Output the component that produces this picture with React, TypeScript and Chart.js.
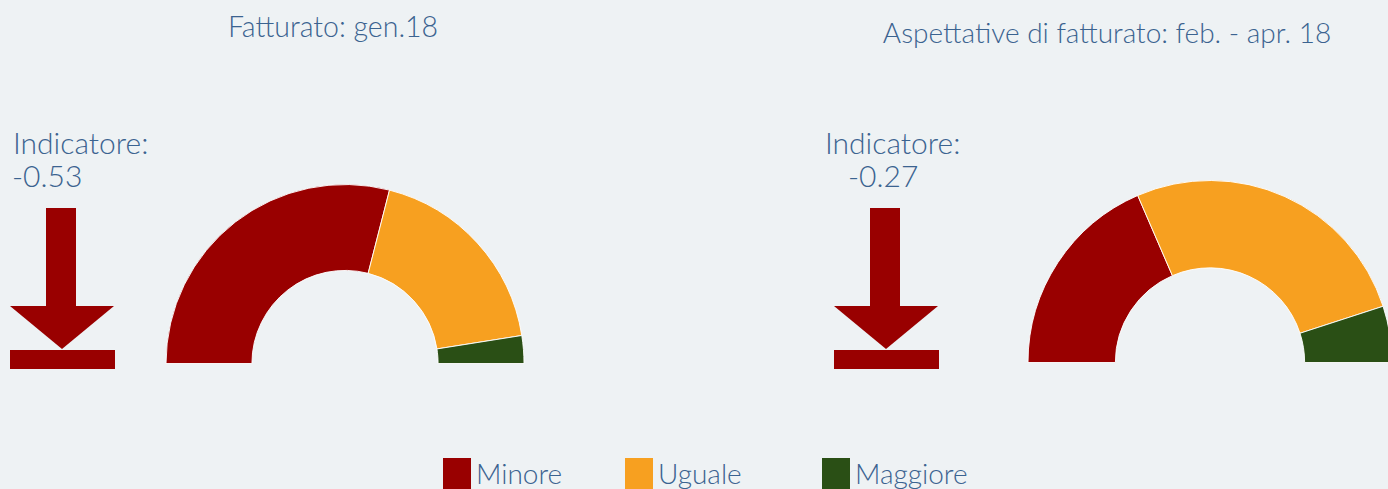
import React, { useEffect, useRef } from "react";
import { Chart, registerables } from "chart.js";

Chart.register(...registerables);

const categories = ["Minore", "Uguale", "Maggiore"];
const fatturatoGen18 = [58, 37, 5];
const aspettativeFebApr18 = [37, 53, 10];
const titles = ["Fatturato: gen.18", "Aspettative di fatturato: feb. - apr. 18"];
const indicatorLabels = ["-0.53", "-0.27"];
const colors = ["#990000", "#f7a020", "#2a4f15"];

const TEXT = "#3b6390";
const FONT = "Lato, 'Open Sans', sans-serif";

function Gauge({ values, left, top, size }: { values: number[]; left: number; top: number; size: number }) {
  const ref = useRef<HTMLCanvasElement | null>(null);
  useEffect(() => {
    if (!ref.current) return;
    const chart = new Chart(ref.current, {
      type: "doughnut",
      data: {
        labels: categories,
        datasets: [
          {
            data: values,
            backgroundColor: colors,
            borderColor: "rgba(255,255,255,0.9)",
            borderWidth: 1,
          },
        ],
      },
      options: {
        responsive: false,
        animation: false,
        rotation: -90,
        circumference: 180,
        cutout: "52%",
        layout: { padding: 0 },
        plugins: { legend: { display: false }, tooltip: { enabled: false } },
      },
    });
    return () => chart.destroy();
  }, []);
  return (
    <canvas
      ref={ref}
      width={size}
      height={size / 2}
      style={{ position: "absolute", left, top, width: size, height: size / 2 }}
    />
  );
}

function Arrow({ x }: { x: number }) {
  return (
    <svg style={{ position: "absolute", left: x, top: 208, overflow: "visible" }} width={106} height={162}>
      <rect x={36} y={0} width={30} height={99} fill="#990000" />
      <polygon points="0,98 104,98 52,141" fill="#990000" />
      <rect x={0} y={142} width={105} height={19} fill="#990000" />
    </svg>
  );
}

export default function App() {
  const textBase: React.CSSProperties = {
    position: "absolute",
    color: TEXT,
    fontFamily: FONT,
    fontWeight: 300,
    whiteSpace: "nowrap",
    lineHeight: 1,
  };
  return (
    <div
      style={{
        position: "absolute",
        left: 0,
        top: 0,
        width: 1388,
        height: 489,
        overflow: "hidden",
        background: "#eef2f4",
      }}
    >
      <div style={{ ...textBase, fontSize: 28.5, left: 333, top: 12, transform: "translateX(-50%)" }}>{titles[0]}</div>
      <div style={{ ...textBase, fontSize: 28, left: 1107, top: 18, transform: "translateX(-50%)" }}>{titles[1]}</div>

      <div style={{ ...textBase, fontSize: 30, left: 13, top: 127 }}>Indicatore:</div>
      <div style={{ ...textBase, fontSize: 30, left: 12, top: 160 }}>{indicatorLabels[0]}</div>
      <div style={{ ...textBase, fontSize: 30, left: 825, top: 127 }}>Indicatore:</div>
      <div style={{ ...textBase, fontSize: 30, left: 848, top: 160 }}>{indicatorLabels[1]}</div>

      <Arrow x={10} />
      <Arrow x={834} />

      <Gauge values={fatturatoGen18} left={165} top={184} size={360} />
      <Gauge values={aspettativeFebApr18} left={1027} top={180} size={366} />

      {categories.map((c, i) => {
        const sx = [443, 625, 822][i];
        return (
          <React.Fragment key={c}>
            <div style={{ position: "absolute", left: sx, top: 458, width: 28, height: 31, background: colors[i] }} />
            <div style={{ ...textBase, fontSize: 28, left: sx + 33, top: 459 }}>{c}</div>
          </React.Fragment>
        );
      })}
    </div>
  );
}
